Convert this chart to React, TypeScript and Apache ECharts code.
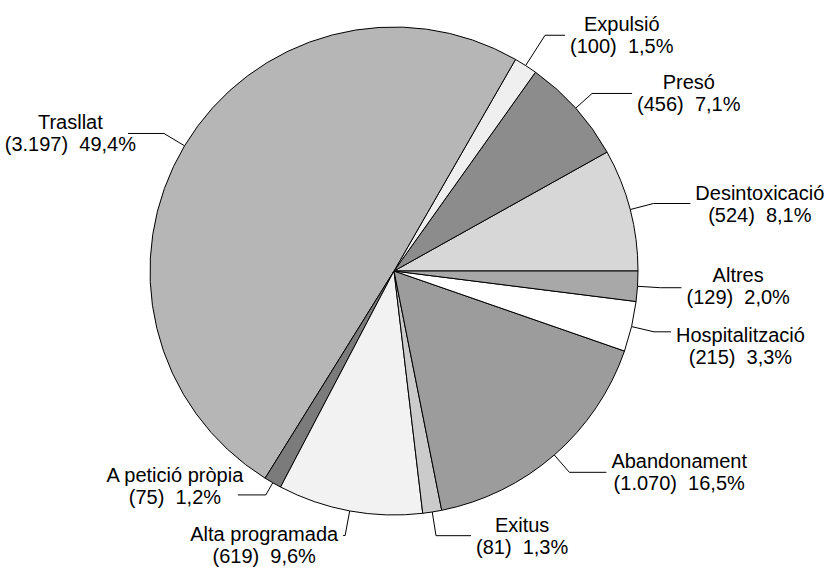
import React, { useEffect, useRef } from "react";
import * as echarts from "echarts";

const categories = [
  "Desintoxicació",
  "Presó",
  "Expulsió",
  "Trasllat",
  "A petició pròpia",
  "Alta programada",
  "Exitus",
  "Abandonament",
  "Hospitalització",
  "Altres",
];
const counts = [524, 456, 100, 3197, 75, 619, 81, 1070, 215, 129];
const percentLabels = ["8,1", "7,1", "1,5", "49,4", "1,2", "9,6", "1,3", "16,5", "3,3", "2,0"];

const sliceColors = [
  "#d7d7d7",
  "#8c8c8c",
  "#efefef",
  "#b6b6b6",
  "#7b7b7b",
  "#f2f2f2",
  "#cbcbcb",
  "#9c9c9c",
  "#ffffff",
  "#a8a8a8",
];

// leader line lengths and label paddings (style only)
const lineLen = [24, 22, 36, 24, 14, 25, 24, 23, 23, 23];
const lineLen2 = [37, 40, 20, 36, 28, 2, 35, 37, 17, 21];
const labelPad: number[][] = [
  [0, 0, 0, 0],
  [0, 0, 0, 0],
  [0, 0, 0, 0],
  [0, -13, 0, 0],
  [0, -11, 18, 0],
  [18, 0, 0, 0],
  [0, 0, 0, 0],
  [0, 0, 0, 0],
  [28, 0, 0, 0],
  [0, 0, 4, 0],
];

const FONT = "'Liberation Sans', Arial, Helvetica, sans-serif";

function fmtCount(n: number): string {
  return String(n).replace(/\B(?=(\d{3})+(?!\d))/g, ".");
}

export default function App() {
  const ref = useRef<HTMLDivElement>(null);
  useEffect(() => {
    document.body.style.margin = "0";
    if (!ref.current) return;
    const chart = echarts.init(ref.current, undefined, { renderer: "svg" });
    const data = categories.map((name, i) => ({
      name,
      value: counts[i],
      itemStyle: { color: sliceColors[i] },
      labelLine: { length: lineLen[i], length2: lineLen2[i] },
      label: { padding: labelPad[i] },
    }));
    chart.setOption({
      animation: false,
      backgroundColor: "#ffffff",
      series: [
        {
          type: "pie",
          center: [394, 271],
          radius: 244,
          startAngle: 0,
          clockwise: false,
          avoidLabelOverlap: false,
          minAngle: 0,
          data,
          itemStyle: { borderColor: "#000000", borderWidth: 1 },
          emphasis: { disabled: true },
          labelLayout: { hideOverlap: false, moveOverlap: null },
          label: {
            show: true,
            position: "outside",
            alignTo: "none",
            distanceToLabelLine: 5,
            color: "#000000",
            fontFamily: FONT,
            fontSize: 20,
            lineHeight: 22,
            formatter: (p: any) =>
              `{a|${p.name}}\n{a|(${fmtCount(p.value)})  ${percentLabels[p.dataIndex]}%}`,
            rich: {
              a: {
                align: "center",
                fontFamily: FONT,
                fontSize: 20,
                lineHeight: 22,
                color: "#000000",
              },
            },
          },
          labelLine: {
            show: true,
            smooth: false,
            lineStyle: { color: "#000000", width: 1 },
            minTurnAngle: 60,
            maxSurfaceAngle: 180,
          },
        },
      ],
    });
    return () => chart.dispose();
  }, []);
  return <div ref={ref} style={{ width: 827, height: 567 }} />;
}
